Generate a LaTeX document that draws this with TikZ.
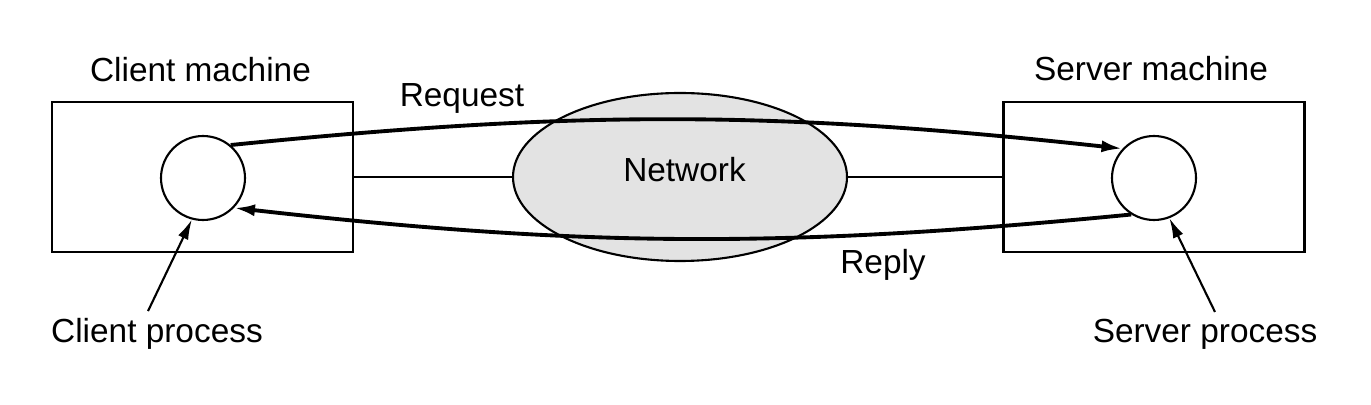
\documentclass[tikz,border=0pt]{standalone}
\usepackage{fontspec}
\setmainfont{Liberation Sans}
\usetikzlibrary{arrows.meta,shapes.geometric}

\tikzset{
  machine/.style={draw,line width=0.6pt,minimum width=3.01cm,minimum height=1.5cm,inner sep=0pt},
  proc/.style={draw,circle,line width=0.6pt,minimum size=0.84cm,inner sep=0pt},
  netcloud/.style={draw,ellipse,fill=gray!22,line width=0.6pt,minimum width=3.34cm,minimum height=1.68cm,inner sep=0pt},
  msg/.style={line width=1.1pt,-{Latex[length=2.1mm,width=1.2mm]}},
  pointer/.style={line width=0.6pt,-{Latex[length=2mm,width=1.1mm]}},
  lbl/.style={font=\fontsize{9.5}{11}\selectfont,inner sep=0pt,anchor=base},
}

\begin{document}
\begin{tikzpicture}
        \useasboundingbox (0,0) rectangle (13.71,4.04) ;
        %\draw[very thin,gray,step=0.5] (0,0) grid (13.71,4.04) ;
        \node[machine] (cmach) at (2.025,2.27) {} ;
        \node[machine] (smach) at (11.54,2.27) {} ;
        \node[netcloud] (net) at (6.80,2.27) {} ;
        \node[lbl] (nettext) at (6.845,2.22) {Network} ;
        \node[proc] (cproc) at (2.03,2.26) {} ;
        \node[proc] (sproc) at (11.54,2.26) {} ;
        \draw[line width=0.6pt] (cmach.east) -- (net.west) ;
        \draw[line width=0.6pt] (net.east) -- (smach.west) ;
        % messages
        \draw[msg] (cproc.50) to[bend left=6] (sproc.137) ;
        \draw[msg] (sproc.238) to[bend left=6] (cproc.316) ;
        \node[lbl] (cmlabel) at (2.005,3.22) {Client machine} ;
        \node[lbl] (smlabel) at (11.51,3.23) {Server machine} ;
        \node[lbl] (reqlabel) at (4.62,2.97) {Request} ;
        \node[lbl] (replabel) at (8.83,1.30) {Reply} ;
        \node[lbl] (cplabel) at (1.57,0.61) {Client process} ;
        \node[lbl] (splabel) at (12.05,0.61) {Server process} ;
        \draw[pointer] ([shift={(-0.09,0.07)}]cplabel.north) -- (cproc.255) ;
        \draw[pointer] ([shift={(0.10,0.07)}]splabel.north) -- (sproc.291) ;
      \end{tikzpicture}
\end{document}
